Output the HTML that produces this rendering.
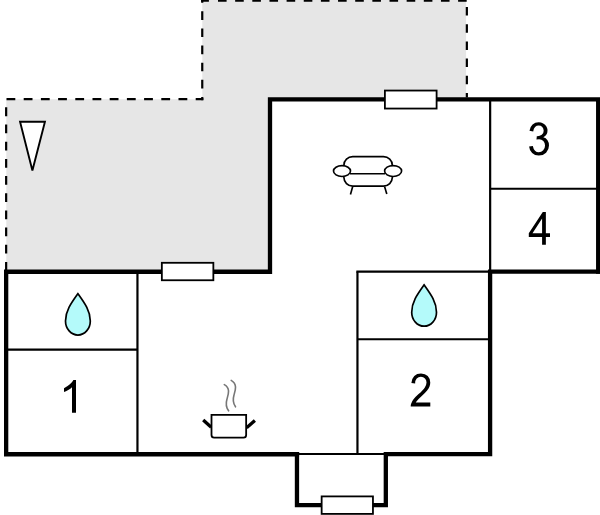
<!DOCTYPE html>
<html>
<head>
<meta charset="utf-8">
<title>Floor plan</title>
<style>
html,body{margin:0;padding:0;background:#fff;}
body{width:600px;height:515px;overflow:hidden;font-family:"Liberation Sans",sans-serif;}
svg{display:block;}
</style>
</head>
<body>
<svg width="600" height="515" viewBox="0 0 600 515">
<rect x="0" y="0" width="600" height="515" fill="#ffffff"/>

<!-- terrace (gray) -->
<polygon points="6.3,99.2 202.3,99.2 202.3,0 466.1,0 466.1,99 270,99 270,272 6.3,272" fill="#e6e6e6"/>

<!-- dashed outline of terrace -->
<g fill="none" stroke="#000" stroke-width="2.2">
  <path d="M6.15,270.7 V99" stroke-dasharray="8.8 8.37"/>
  <path d="M6.5,99.2 H203.35" stroke-dasharray="8.8 8.4"/>
  <path d="M202.25,100.2 V97"/>
  <path d="M202.25,88.45 V-1" stroke-dasharray="8.6 8.54"/>
  <path d="M201.15,0.65 H208.9"/>
  <path d="M218,0.65 H467" stroke-dasharray="8.6 8.55"/>
  <path d="M466.85,7 V97.5" stroke-dasharray="8.5 8.7"/>
</g>

<!-- thin interior walls -->
<g fill="none" stroke="#000" stroke-width="2.2">
  <path d="M137.45,272 V454"/>
  <path d="M6,349.7 H137.45"/>
  <path d="M490.15,99 V271"/>
  <path d="M490.15,188.75 H598"/>
  <path d="M356.35,271.6 H490"/>
  <path d="M357.45,271.6 V454"/>
  <path d="M357.45,339.25 H490"/>
  <path d="M297,454 H386"/>
</g>

<!-- thick walls -->
<g fill="none" stroke="#000" stroke-width="4.3" stroke-linejoin="miter" stroke-linecap="butt">
  <path d="M296.97,452.1 V505.07 H385.82 V454.07 H490.1 V271.65 H601"/>
  <path d="M598.2,273.8 V99.35 H270 V271.75 H6.15 V454.25 H299.1"/>
</g>

<!-- windows -->
<g fill="#fff" stroke="#000" stroke-width="1.8">
  <rect x="384.9" y="90.55" width="51.7" height="18.0"/>
  <rect x="161.85" y="262.8" width="51.5" height="17.45"/>
  <rect x="321.65" y="496.4" width="51.3" height="17.5"/>
</g>

<!-- triangle (entrance marker) -->
<path d="M20.05,121.75 H44.95 L32.4,170.4 Z" fill="#fff" stroke="#000" stroke-width="1.9" stroke-linejoin="miter"/>

<!-- water drops -->
<g fill="#b4fafa" stroke="#000" stroke-width="1.7" stroke-linejoin="miter" stroke-miterlimit="6">
  <path d="M77.9,293.70 C85.05,303.70 90.30,311.00 90.30,321.00 A12.4,14.05 0 0 1 65.50,321.00 C65.50,311.00 70.75,303.70 77.9,293.70 Z"/>
  <path d="M424.1,284.85 C431.25,294.85 436.50,302.15 436.50,312.15 A12.4,14.05 0 0 1 411.70,312.15 C411.70,302.15 416.95,294.85 424.1,284.85 Z"/>
</g>

<!-- sofa -->
<g fill="#fff" stroke="#000" stroke-width="1.65" stroke-linecap="butt">
  <path d="M352.7,186.6 L350.45,194.4"/>
  <path d="M384.55,186.6 L386.8,194.0"/>
  <rect x="343.9" y="156.65" width="48.4" height="29.45" rx="8.8" ry="8.5"/>
  <path d="M350,173.75 H385" fill="none"/>
  <ellipse cx="342.0" cy="171.05" rx="8.5" ry="5.45"/>
  <ellipse cx="393.1" cy="171.0" rx="8.5" ry="5.45"/>
</g>

<!-- pot -->
<g fill="none" stroke="#000">
  <path d="M203.2,420.0 L211.2,427.2" stroke-width="3.3"/>
  <path d="M254.9,420.5 L246.6,427.7" stroke-width="3.3"/>
  <path d="M211.5,414.95 H246.15 V435.1 Q246.15,437.7 243.55,437.7 H214.1 Q211.5,437.7 211.5,435.1 Z" fill="#fff" stroke-width="1.8"/>
</g>
<g fill="none" stroke="#777" stroke-width="1.6" stroke-linecap="round">
  <path d="M224.3,384.6 C230.5,388 228.5,394 227,399 C225.5,404 226.5,408 228.6,410.8"/>
  <path d="M231.2,380.4 C237.5,384 235.5,390 234,395 C232.5,400 233.5,404 235.5,406.8"/>
</g>

<!-- room numbers (as outlines) -->
<g fill="#000" stroke="none">
<path transform="matrix(0.022222 0 0 -0.022283 59.044 412.800)" d="M763 0H583V1147Q518 1085 412.5 1023Q307 961 223 930V1104Q374 1175 487 1276Q600 1377 647 1472H763Z"/>
<path transform="matrix(0.020227 0 0 -0.022418 409.446 406.500)" d="M1031 173V0H62Q60 65 83 125Q120 224 201.5 320Q283 416 437 542Q676 738 760 852.5Q844 967 844 1069Q844 1176 767.5 1249.5Q691 1323 568 1323Q438 1323 360 1245Q282 1167 281 1029L96 1048Q115 1255 239 1363.5Q363 1472 572 1472Q783 1472 906 1355Q1029 1238 1029 1065Q1029 977 993 892Q957 807 873.5 713Q790 619 596 455Q434 319 388 270.5Q342 222 312 173H1031Z"/>
<path transform="matrix(0.020729 0 0 -0.022230 527.317 155.022)" d="M86 387L266 411Q297 258 371.5 190.5Q446 123 553 123Q680 123 767.5 211Q855 299 855 429Q855 553 774 633.5Q693 714 568 714Q517 714 441 694L461 852Q479 850 490 850Q605 850 697 910Q789 970 789 1095Q789 1194 722 1259Q655 1324 549 1324Q444 1324 374 1258Q304 1192 284 1060L104 1092Q137 1273 254 1372.5Q371 1472 545 1472Q665 1472 766 1420.5Q867 1369 920.5 1280Q974 1191 974 1091Q974 996 923 918Q872 840 772 794Q902 764 974 669.5Q1046 575 1046 433Q1046 241 906 107.5Q766 -26 552 -26Q359 -26 231.5 89Q104 204 86 387Z"/>
<path transform="matrix(0.020907 0 0 -0.022374 528.256 244.800)" d="M662 0V351H26V516L695 1466H842V516H1040V351H842V0H662ZM662 516V1177L203 516H662Z"/>
</g>
</svg>
</body>
</html>
